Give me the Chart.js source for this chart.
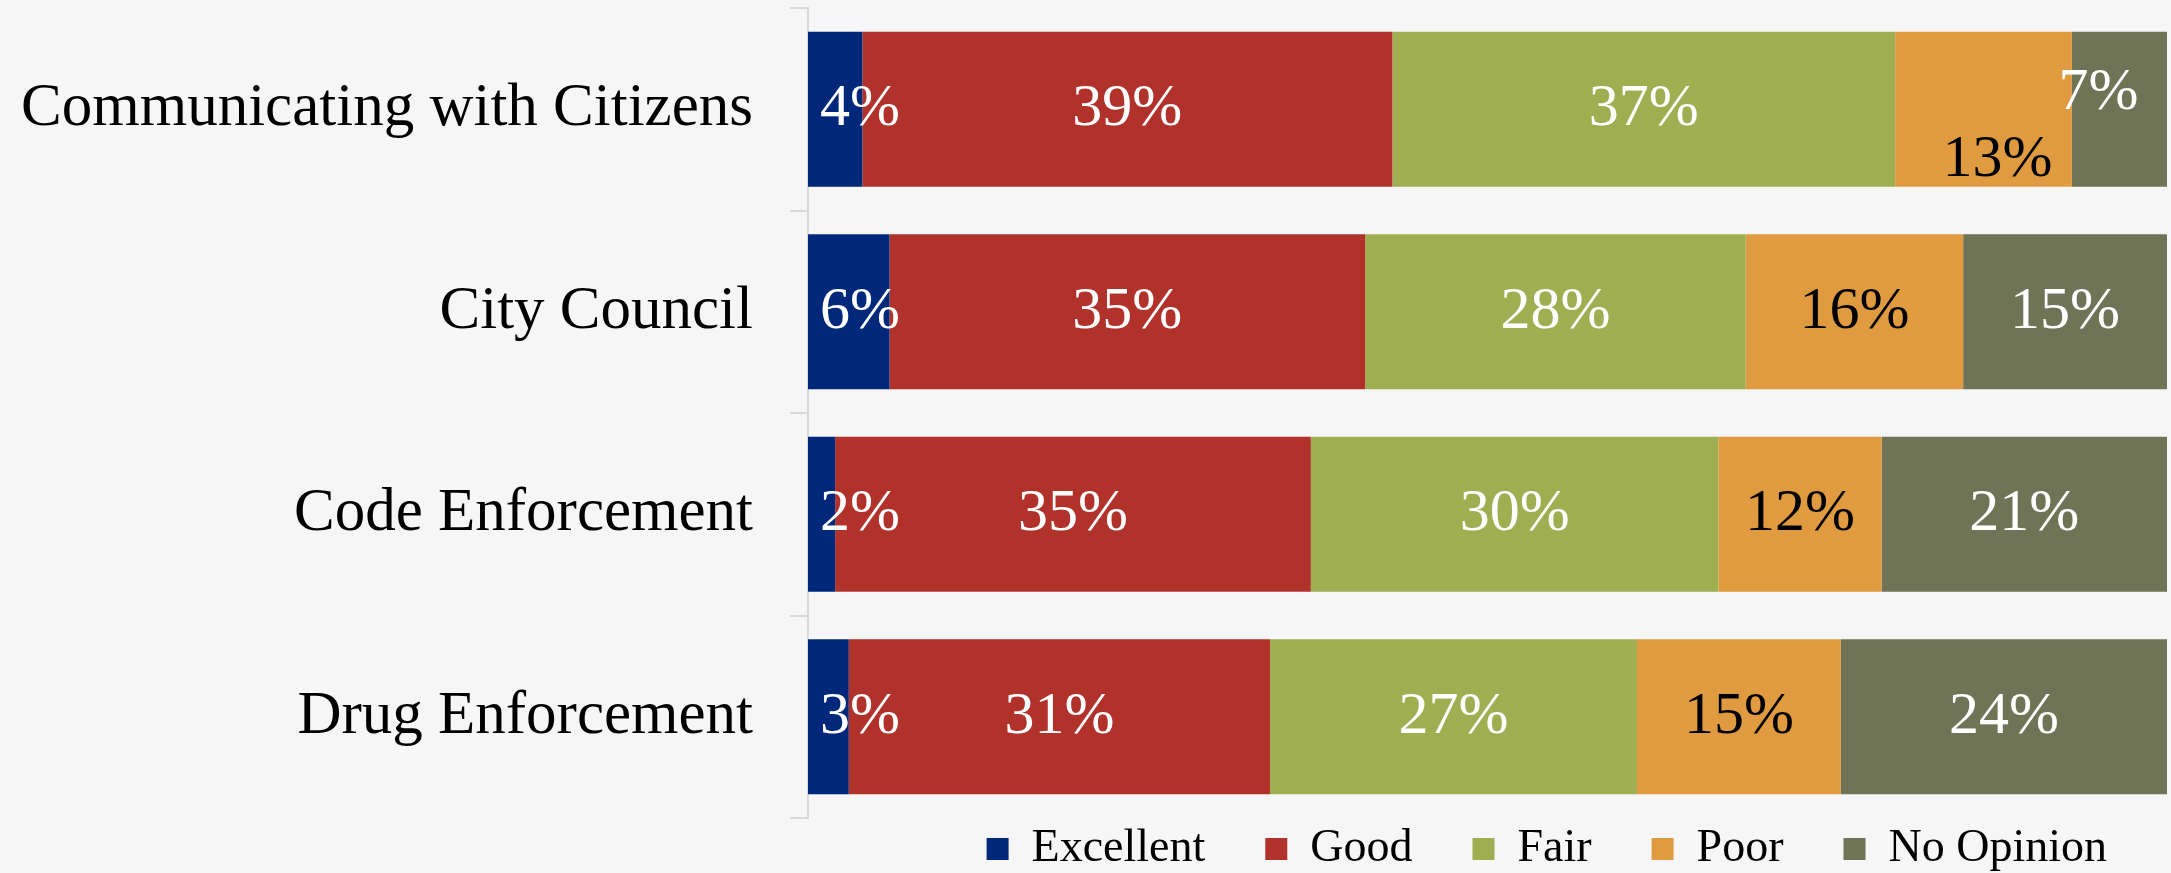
<!DOCTYPE html>
<html>
<head>
<meta charset="utf-8">
<title>Ratings</title>
<script src="https://cdn.jsdelivr.net/npm/chart.js@4.4.1/dist/chart.umd.min.js"></script>
<style>
  html, body { margin: 0; padding: 0; background: #f6f6f6; overflow: hidden; }
  .chart-container { position: relative; width: 2171px; height: 873px; }
</style>
</head>
<body>
<div class="chart-container">
  <canvas id="barChart"></canvas>
</div>
<script>
const categories = ["Communicating with Citizens", "City Council", "Code Enforcement", "Drug Enforcement"];
const excellent = [4, 6, 2, 3];
const good = [39, 35, 35, 31];
const fair = [37, 28, 30, 27];
const poor = [13, 16, 12, 15];
const noOpinion = [7, 15, 21, 24];

const serif = "'Liberation Serif', 'Times New Roman', serif";

// Labels centred on each segment; a couple were hand-moved in the original
const nudges = { '3-0': [14, 51], '4-0': [-21, -16] };

const segmentLabels = {
    id: 'segmentLabels',
    afterDatasetsDraw(chart) {
        const ctx = chart.ctx;
        const area = chart.chartArea;
        ctx.save();
        ctx.font = '60px ' + serif;
        ctx.textAlign = 'center';
        ctx.textBaseline = 'middle';
        chart.data.datasets.forEach((ds, di) => {
            const meta = chart.getDatasetMeta(di);
            meta.data.forEach((bar, i) => {
                const p = bar.getProps(['x', 'y', 'base'], true);
                const text = ds.data[i] + '%';
                const w = ctx.measureText(text).width;
                let cx = Math.max((p.x + p.base) / 2, area.left + 12 + w / 2);
                let cy = p.y;
                const n = nudges[di + '-' + i];
                if (n) { cx += n[0]; cy += n[1]; }
                ctx.fillStyle = ds.labelColor;
                ctx.fillText(text, cx, cy);
            });
        });
        ctx.restore();
    }
};

// Put the legend row right under the plot instead of below its padding
const legendRow = {
    id: 'legendRow',
    afterLayout(chart) {
        const lg = chart.legend;
        const pad = lg.options.labels.padding;
        const dy = chart.chartArea.bottom + 31 - (lg.top + pad + 23);
        lg.top += dy;
        lg.bottom = chart.height;
    }
};

const barCtx = document.getElementById('barChart').getContext('2d');
new Chart(barCtx, {
    type: 'bar',
    data: {
        labels: categories,
        datasets: [
            { label: 'Excellent', data: excellent, backgroundColor: '#00287a', labelColor: '#ffffff' },
            { label: 'Good', data: good, backgroundColor: '#b0322b', labelColor: '#ffffff' },
            { label: 'Fair', data: fair, backgroundColor: '#a0ae52', labelColor: '#ffffff' },
            { label: 'Poor', data: poor, backgroundColor: '#e09b40', labelColor: '#000000' },
            { label: 'No Opinion', data: noOpinion, backgroundColor: '#6f7457', labelColor: '#ffffff' }
        ]
    },
    options: {
        indexAxis: 'y',
        responsive: true,
        maintainAspectRatio: false,
        animation: false,
        datasets: {
            bar: { categoryPercentage: 1, barPercentage: 0.765 }
        },
        layout: { padding: { top: 8, right: 4, left: 0, bottom: 0 } },
        plugins: {
            title: { display: false },
            tooltip: { enabled: false },
            legend: {
                position: 'bottom',
                align: 'end',
                maxHeight: 55,
                labels: {
                    boxWidth: 22,
                    boxHeight: 22,
                    padding: 60,
                    color: '#000000',
                    font: { family: serif, size: 46 }
                }
            }
        },
        scales: {
            x: {
                stacked: true,
                display: false,
                min: 0,
                max: 100
            },
            y: {
                stacked: true,
                afterFit(scale) {
                    scale.width = 808;
                    // bands are offset, so the labels need no extra room above/below
                    scale.paddingTop = 0;
                    scale.paddingBottom = 0;
                },
                grid: {
                    drawOnChartArea: false,
                    drawTicks: true,
                    tickLength: 18,
                    color: '#d9d9d9',
                    lineWidth: 2
                },
                border: { color: '#d9d9d9', width: 2 },
                ticks: {
                    padding: 37,
                    color: '#000000',
                    font: { family: serif, size: 61 }
                }
            }
        }
    },
    plugins: [segmentLabels, legendRow]
});
</script>
</body>
</html>
